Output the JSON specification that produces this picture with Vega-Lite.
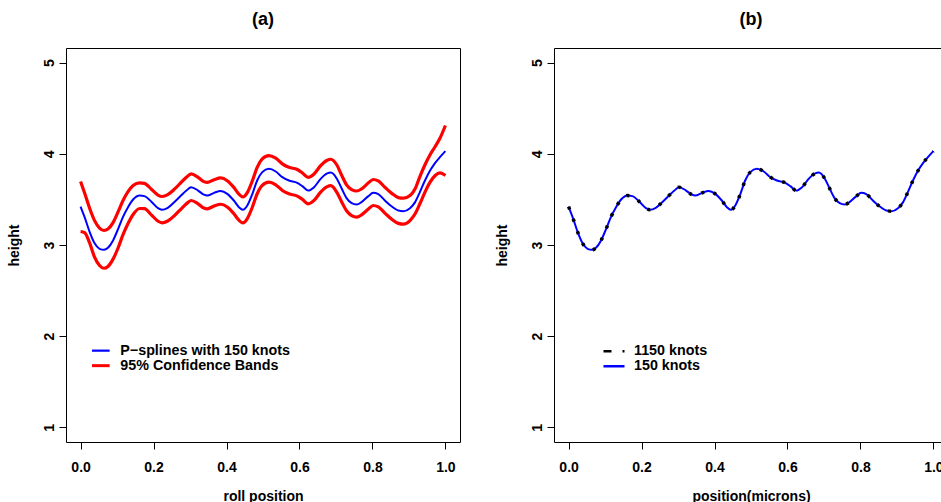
{
  "$schema": "https://vega.github.io/schema/vega-lite/v6.json",
  "padding": {"left": 6, "top": 10, "right": 0, "bottom": 0},
  "spacing": 33,
  "background": "white",
  "resolve": {"scale": {"color": "independent"}, "legend": {"color": "independent"}},
  "config": {
    "font": "Liberation Sans",
    "view": {"stroke": "black", "strokeWidth": 1},
    "axis": {
      "grid": false, "domain": false, "ticks": true, "tickSize": 7, "tickColor": "black", "tickWidth": 1,
      "labelFont": "Liberation Sans", "labelFontSize": 14, "labelFontWeight": "bold", "labelColor": "black",
      "titleFont": "Liberation Sans", "titleFontSize": 14, "titleFontWeight": "bold", "titleColor": "black"
    },
    "axisX": {"labelPadding": 11, "titlePadding": 26, "titleBaseline": "alphabetic"},
    "axisY": {"labelAngle": -90, "labelAlign": "center", "labelBaseline": "alphabetic", "labelPadding": 6, "titlePadding": 24, "titleBaseline": "alphabetic"},
    "title": {"font": "Liberation Sans", "fontSize": 18, "fontWeight": "bold", "color": "black", "anchor": "middle", "frame": "group", "baseline": "alphabetic", "offset": 19},
    "legend": {
      "orient": "none", "padding": 0, "symbolType": "stroke", "symbolSize": 441, "symbolStrokeWidth": 2.5,
      "labelFont": "Liberation Sans", "labelFontSize": 14.3, "labelFontWeight": "bold", "labelColor": "black",
      "labelOffset": 14, "rowPadding": 0, "labelLimit": 400
    }
  },
  "datasets": {
    "spline": [
      {"x": 0.000, "fit": 3.420, "upper": 3.696, "lower": 3.148},
      {"x": 0.011, "fit": 3.306, "upper": 3.570, "lower": 3.135},
      {"x": 0.025, "fit": 3.141, "upper": 3.400, "lower": 3.020},
      {"x": 0.038, "fit": 3.021, "upper": 3.270, "lower": 2.870},
      {"x": 0.052, "fit": 2.958, "upper": 3.185, "lower": 2.775},
      {"x": 0.064, "fit": 2.947, "upper": 3.159, "lower": 2.745},
      {"x": 0.075, "fit": 2.969, "upper": 3.175, "lower": 2.765},
      {"x": 0.089, "fit": 3.050, "upper": 3.245, "lower": 2.845},
      {"x": 0.103, "fit": 3.178, "upper": 3.365, "lower": 2.970},
      {"x": 0.116, "fit": 3.306, "upper": 3.485, "lower": 3.110},
      {"x": 0.130, "fit": 3.415, "upper": 3.585, "lower": 3.235},
      {"x": 0.144, "fit": 3.499, "upper": 3.652, "lower": 3.335},
      {"x": 0.162, "fit": 3.542, "upper": 3.682, "lower": 3.400},
      {"x": 0.175, "fit": 3.536, "upper": 3.676, "lower": 3.398},
      {"x": 0.194, "fit": 3.475, "upper": 3.612, "lower": 3.330},
      {"x": 0.212, "fit": 3.404, "upper": 3.548, "lower": 3.262},
      {"x": 0.223, "fit": 3.386, "upper": 3.532, "lower": 3.243},
      {"x": 0.239, "fit": 3.408, "upper": 3.553, "lower": 3.263},
      {"x": 0.258, "fit": 3.475, "upper": 3.615, "lower": 3.325},
      {"x": 0.276, "fit": 3.545, "upper": 3.688, "lower": 3.397},
      {"x": 0.290, "fit": 3.597, "upper": 3.742, "lower": 3.452},
      {"x": 0.303, "fit": 3.634, "upper": 3.780, "lower": 3.488},
      {"x": 0.322, "fit": 3.597, "upper": 3.742, "lower": 3.452},
      {"x": 0.338, "fit": 3.552, "upper": 3.695, "lower": 3.405},
      {"x": 0.347, "fit": 3.542, "upper": 3.686, "lower": 3.397},
      {"x": 0.366, "fit": 3.572, "upper": 3.716, "lower": 3.428},
      {"x": 0.384, "fit": 3.591, "upper": 3.735, "lower": 3.447},
      {"x": 0.402, "fit": 3.561, "upper": 3.705, "lower": 3.417},
      {"x": 0.420, "fit": 3.488, "upper": 3.632, "lower": 3.344},
      {"x": 0.434, "fit": 3.415, "upper": 3.558, "lower": 3.272},
      {"x": 0.445, "fit": 3.386, "upper": 3.527, "lower": 3.243},
      {"x": 0.457, "fit": 3.433, "upper": 3.575, "lower": 3.290},
      {"x": 0.471, "fit": 3.561, "upper": 3.705, "lower": 3.417},
      {"x": 0.484, "fit": 3.707, "upper": 3.852, "lower": 3.562},
      {"x": 0.498, "fit": 3.799, "upper": 3.945, "lower": 3.654},
      {"x": 0.516, "fit": 3.835, "upper": 3.981, "lower": 3.689},
      {"x": 0.535, "fit": 3.806, "upper": 3.952, "lower": 3.660},
      {"x": 0.553, "fit": 3.744, "upper": 3.890, "lower": 3.598},
      {"x": 0.571, "fit": 3.707, "upper": 3.852, "lower": 3.562},
      {"x": 0.594, "fit": 3.682, "upper": 3.828, "lower": 3.536},
      {"x": 0.608, "fit": 3.645, "upper": 3.790, "lower": 3.500},
      {"x": 0.624, "fit": 3.597, "upper": 3.742, "lower": 3.452},
      {"x": 0.640, "fit": 3.634, "upper": 3.779, "lower": 3.489},
      {"x": 0.658, "fit": 3.725, "upper": 3.870, "lower": 3.580},
      {"x": 0.676, "fit": 3.785, "upper": 3.930, "lower": 3.640},
      {"x": 0.686, "fit": 3.795, "upper": 3.940, "lower": 3.650},
      {"x": 0.702, "fit": 3.730, "upper": 3.880, "lower": 3.580},
      {"x": 0.716, "fit": 3.616, "upper": 3.762, "lower": 3.470},
      {"x": 0.729, "fit": 3.514, "upper": 3.660, "lower": 3.375},
      {"x": 0.743, "fit": 3.459, "upper": 3.608, "lower": 3.322},
      {"x": 0.757, "fit": 3.444, "upper": 3.592, "lower": 3.305},
      {"x": 0.770, "fit": 3.470, "upper": 3.615, "lower": 3.330},
      {"x": 0.789, "fit": 3.536, "upper": 3.682, "lower": 3.395},
      {"x": 0.802, "fit": 3.572, "upper": 3.718, "lower": 3.433},
      {"x": 0.816, "fit": 3.558, "upper": 3.703, "lower": 3.418},
      {"x": 0.834, "fit": 3.488, "upper": 3.633, "lower": 3.350},
      {"x": 0.853, "fit": 3.422, "upper": 3.566, "lower": 3.282},
      {"x": 0.871, "fit": 3.378, "upper": 3.520, "lower": 3.237},
      {"x": 0.885, "fit": 3.371, "upper": 3.513, "lower": 3.228},
      {"x": 0.903, "fit": 3.404, "upper": 3.542, "lower": 3.268},
      {"x": 0.917, "fit": 3.470, "upper": 3.616, "lower": 3.342},
      {"x": 0.930, "fit": 3.580, "upper": 3.750, "lower": 3.452},
      {"x": 0.944, "fit": 3.707, "upper": 3.880, "lower": 3.580},
      {"x": 0.958, "fit": 3.816, "upper": 3.990, "lower": 3.689},
      {"x": 0.972, "fit": 3.901, "upper": 4.080, "lower": 3.762},
      {"x": 0.985, "fit": 3.963, "upper": 4.170, "lower": 3.791},
      {"x": 1.000, "fit": 4.029, "upper": 4.310, "lower": 3.762}
    ]
  },
  "hconcat": [
    {
      "width": 394, "height": 394,
      "title": {"text": "(a)"},
      "data": {"name": "spline"},
      "encoding": {
        "x": {"field": "x", "type": "quantitative", "scale": {"domain": [-0.04, 1.04], "nice": false, "zero": false},
              "axis": {"title": "roll position", "values": [0, 0.2, 0.4, 0.6, 0.8, 1], "format": ".1f"}}
      },
      "layer": [
        {
          "mark": {"type": "line", "strokeWidth": 3.2, "interpolate": "monotone"},
          "encoding": {
            "y": {"field": "upper", "type": "quantitative", "scale": {"domain": [0.84, 5.16], "nice": false, "zero": false},
                  "axis": {"title": "height", "values": [1, 2, 3, 4, 5], "format": "d"}},
            "color": {"datum": "95% Confidence Bands",
                      "scale": {"domain": ["P−splines with 150 knots", "95% Confidence Bands"], "range": ["#0000FF", "#FF0000"]},
                      "legend": {"title": null, "legendX": 26, "legendY": 296, "clipHeight": 13.3,
                                 "encode": {"symbols": {"update": {"strokeWidth": {"signal": "datum.value === '95% Confidence Bands' ? 3 : 2.2"}}}}}}
          }
        },
        {
          "mark": {"type": "line", "strokeWidth": 3.2, "interpolate": "monotone"},
          "encoding": {
            "y": {"field": "lower", "type": "quantitative", "scale": {"domain": [0.84, 5.16], "nice": false, "zero": false},
                  "axis": {"title": "height", "values": [1, 2, 3, 4, 5], "format": "d"}},
            "color": {"datum": "95% Confidence Bands"}
          }
        },
        {
          "mark": {"type": "line", "strokeWidth": 2, "interpolate": "monotone"},
          "encoding": {
            "y": {"field": "fit", "type": "quantitative", "scale": {"domain": [0.84, 5.16], "nice": false, "zero": false},
                  "axis": {"title": "height", "values": [1, 2, 3, 4, 5], "format": "d"}},
            "color": {"datum": "P−splines with 150 knots"}
          }
        }
      ]
    },
    {
      "width": 394, "height": 394,
      "title": {"text": "(b)"},
      "data": {"name": "spline"},
      "encoding": {
        "x": {"field": "x", "type": "quantitative", "scale": {"domain": [-0.04, 1.04], "nice": false, "zero": false},
              "axis": {"title": "position(microns)", "values": [0, 0.2, 0.4, 0.6, 0.8, 1], "format": ".1f"}}
      },
      "layer": [
        {
          "mark": {"type": "line", "strokeWidth": 2, "interpolate": "monotone"},
          "encoding": {
            "y": {"field": "fit", "type": "quantitative", "scale": {"domain": [0.84, 5.16], "nice": false, "zero": false},
                  "axis": {"title": "height", "values": [1, 2, 3, 4, 5], "format": "d"}},
            "color": {"datum": "150 knots",
                      "scale": {"domain": ["1150 knots", "150 knots"], "range": ["#000000", "#0000FF"]},
                      "legend": {"title": null, "legendX": 48, "legendY": 297, "clipHeight": 12.7, "labelOffset": 8,
                                 "encode": {"symbols": {"update": {"strokeDash": {"signal": "datum.value === '1150 knots' ? [8, 11, 2, 10] : [1, 0]"}}}}}}
          }
        },
        {
          "mark": {"type": "line", "strokeWidth": 3.5, "strokeDash": [3, 10], "strokeCap": "butt", "interpolate": "monotone"},
          "encoding": {
            "y": {"field": "fit", "type": "quantitative", "scale": {"domain": [0.84, 5.16], "nice": false, "zero": false},
                  "axis": {"title": "height", "values": [1, 2, 3, 4, 5], "format": "d"}},
            "color": {"datum": "1150 knots"}
          }
        }
      ]
    }
  ]
}
